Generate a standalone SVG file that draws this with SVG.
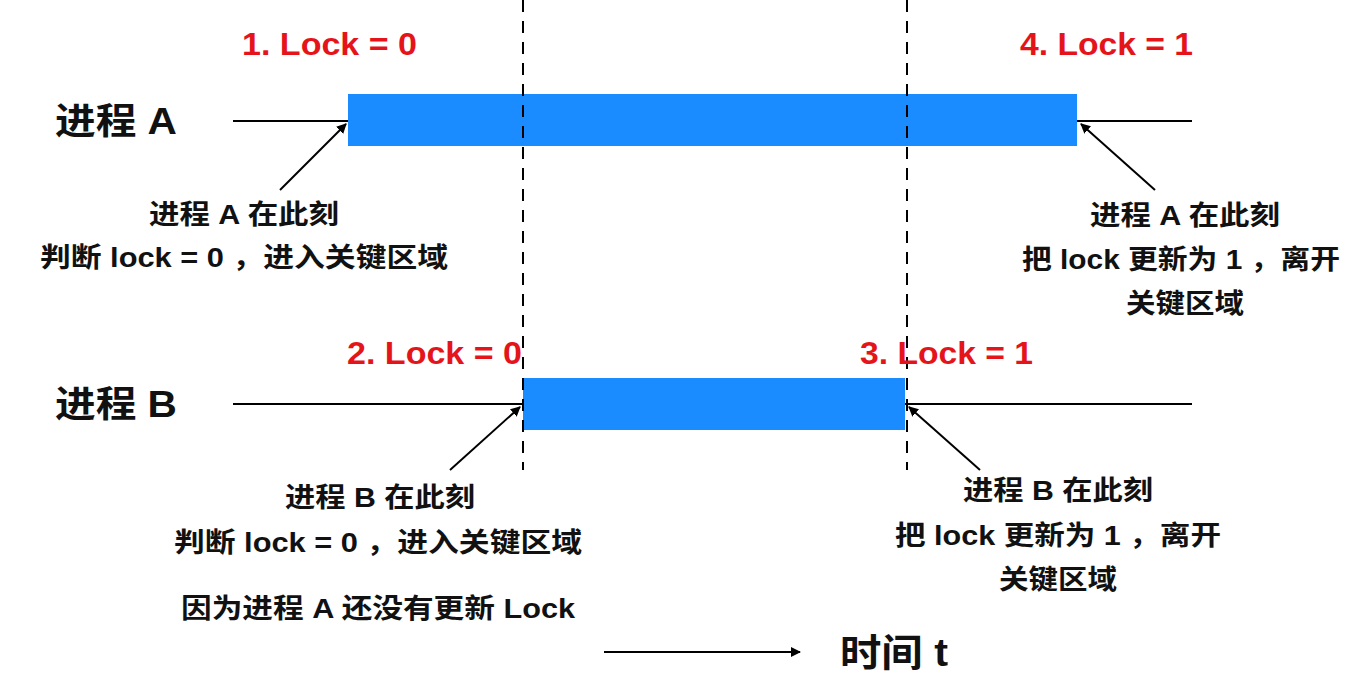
<svg xmlns="http://www.w3.org/2000/svg" width="1354" height="680" viewBox="0 0 1354 680">
<style>
text{font-family:"Liberation Sans","Noto Sans CJK SC",sans-serif;font-weight:bold;fill:#111}
.red{fill:#e5141b;font-size:32px}
.lbl{font-size:36px}
.note{font-size:27px;text-anchor:middle}
.bar{fill:#1a8cff}
.ln{stroke:#000;stroke-width:2;fill:none}
.dash{stroke:#000;stroke-width:2;stroke-dasharray:12,9}
</style>
<defs><marker id="ah" markerWidth="10" markerHeight="10" refX="9" refY="5" orient="auto" markerUnits="userSpaceOnUse"><path d="M0,0 L10,5 L0,10 Z" fill="#000"/></marker></defs>
<rect width="1354" height="680" fill="#fff"/>
<g id="processA"><line class="ln" x1="233" y1="121" x2="1192" y2="121"/><rect class="bar" x="348" y="94" width="729" height="52"/><text class="lbl" x="55" y="134" textLength="122" lengthAdjust="spacingAndGlyphs">进程 A</text></g>
<g id="processB"><line class="ln" x1="233" y1="404" x2="1192" y2="404"/><rect class="bar" x="523" y="378" width="382" height="52"/><text class="lbl" x="55" y="417" textLength="122" lengthAdjust="spacingAndGlyphs">进程 B</text></g>
<g id="connectors">
<line class="dash" x1="523" y1="0" x2="523" y2="470"/>
<line class="dash" x1="907" y1="0" x2="907" y2="470"/>
<line class="ln" x1="280" y1="190" x2="346" y2="124" marker-end="url(#ah)"/>
<line class="ln" x1="1155" y1="190" x2="1081" y2="124" marker-end="url(#ah)"/>
<line class="ln" x1="450" y1="470" x2="520" y2="407" marker-end="url(#ah)"/>
<line class="ln" x1="980" y1="470" x2="909" y2="407" marker-end="url(#ah)"/>
<line class="ln" x1="604" y1="652" x2="800" y2="652" marker-end="url(#ah)"/>
</g>
<g id="labels">
<text class="red" x="242" y="55" textLength="175" lengthAdjust="spacingAndGlyphs">1. Lock = 0</text>
<text class="red" x="1020" y="55" textLength="173" lengthAdjust="spacingAndGlyphs">4. Lock = 1</text>
<text class="red" x="347" y="364" textLength="175" lengthAdjust="spacingAndGlyphs">2. Lock = 0</text>
<text class="red" x="860" y="364" textLength="173" lengthAdjust="spacingAndGlyphs">3. Lock = 1</text>
<text class="note" x="244" y="224" textLength="190" lengthAdjust="spacingAndGlyphs">进程 A 在此刻</text>
<text class="note" x="244" y="267" textLength="408" lengthAdjust="spacingAndGlyphs">判断 lock = 0 ，进入关键区域</text>
<text class="note" x="1185" y="225" textLength="190" lengthAdjust="spacingAndGlyphs">进程 A 在此刻</text>
<text class="note" x="1181" y="269" textLength="318" lengthAdjust="spacingAndGlyphs">把 lock 更新为 1 ，离开</text>
<text class="note" x="1185" y="313" textLength="118" lengthAdjust="spacingAndGlyphs">关键区域</text>
<text class="note" x="380" y="507" textLength="190" lengthAdjust="spacingAndGlyphs">进程 B 在此刻</text>
<text class="note" x="378" y="552" textLength="408" lengthAdjust="spacingAndGlyphs">判断 lock = 0 ，进入关键区域</text>
<text class="note" x="378" y="618" textLength="394" lengthAdjust="spacingAndGlyphs">因为进程 A 还没有更新 Lock</text>
<text class="note" x="1058" y="500" textLength="190" lengthAdjust="spacingAndGlyphs">进程 B 在此刻</text>
<text class="note" x="1058" y="545" textLength="326" lengthAdjust="spacingAndGlyphs">把 lock 更新为 1 ，离开</text>
<text class="note" x="1058" y="589" textLength="118" lengthAdjust="spacingAndGlyphs">关键区域</text>
<text x="840" y="666" style="font-size:38px" textLength="108" lengthAdjust="spacingAndGlyphs">时间 t</text>
</g>
</svg>
